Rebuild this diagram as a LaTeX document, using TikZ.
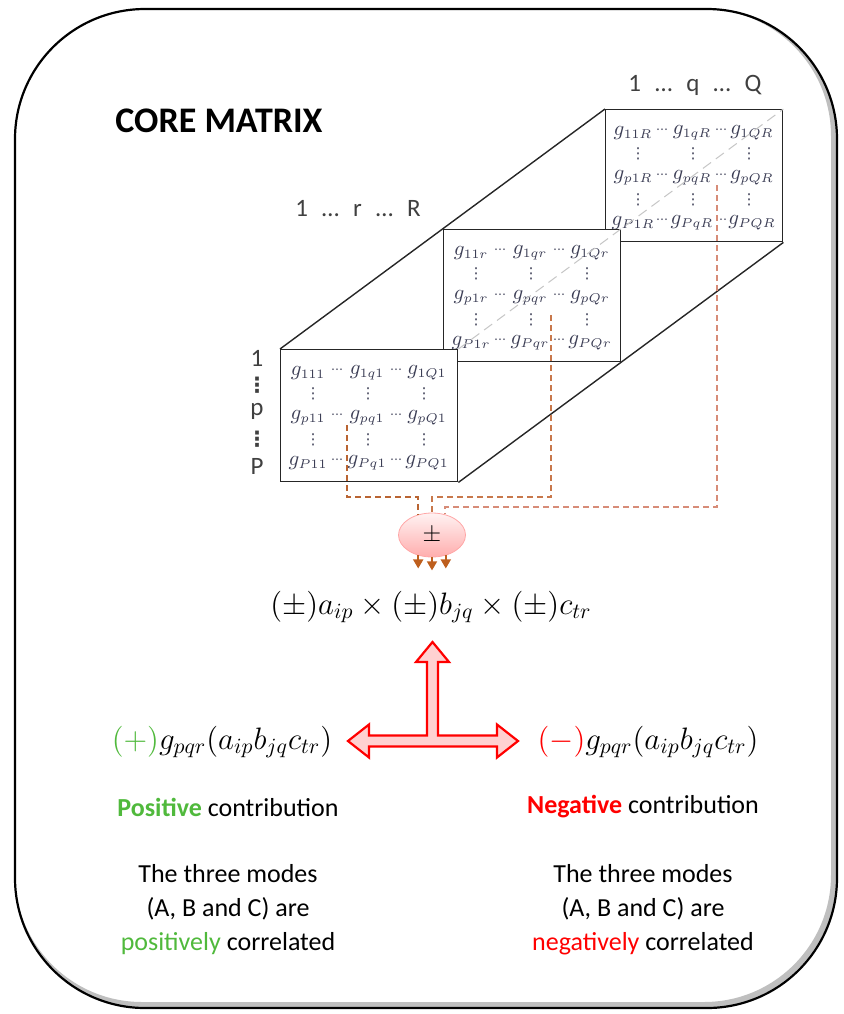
\RequirePackage{fix-cm}
\documentclass[tikz,border=0pt]{standalone}
\usepackage{amsmath,amssymb}
\usepackage[no-math]{fontspec}
\setmainfont{Carlito}
\newfontfamily\dotsfont{DejaVu Sans}
\usetikzlibrary{positioning,arrows.meta,shapes.geometric,backgrounds}
\DeclareMathSizes{10.5}{10.5}{6.4}{5}

\definecolor{posgreen}{RGB}{80,185,60}
\definecolor{negred}{RGB}{255,0,0}
\definecolor{entryink}{RGB}{60,62,85}
\definecolor{labelgray}{RGB}{64,64,64}
\definecolor{wireA}{RGB}{185,100,50}
\definecolor{wireB}{RGB}{200,120,75}
\definecolor{wireC}{RGB}{215,140,120}
\definecolor{dripbrown}{RGB}{190,95,30}

\begin{document}
\begin{tikzpicture}[x=0.5pt, y=-0.5pt,
    slab/.style={draw=black!85, line width=0.7pt, fill=white,
      minimum width=88.5pt, minimum height=66pt, inner sep=0pt},
    entrynode/.style={text=entryink, font=\fontsize{10.5}{11}\selectfont, inner sep=0pt},
    dotnode/.style={text=entryink, font={\fontsize{6}{6}\dotsfont}, inner sep=0pt},
    axislabel/.style={text=labelgray, font=\fontsize{12.5}{14}\selectfont, inner sep=0pt},
    wire/.style={line width=0.8pt, dash pattern=on 3pt off 2pt},
    drip/.style={-{Triangle[width=5pt,length=4.5pt]}, line width=0.8pt, draw=dripbrown},
    bigarrow/.style={draw=red, line width=1.1pt, fill=red!18, line join=miter},
    body/.style={font=\fontsize{13}{17}\selectfont, align=center},
    formula/.style={font=\fontsize{15.5}{18}\selectfont}]
  \useasboundingbox (0,0) rectangle (844,1014);

  % frame with inner shadow
  \begin{scope}
    \clip[rounded corners=65pt] (15,9) rectangle (837,1008);
    \draw[black!25, line width=3pt, rounded corners=65pt] (12,6) rectangle (834,1005);
  \end{scope}
  \draw[line width=1.1pt, rounded corners=65pt] (15,9) rectangle (837,1008);

  \node[font=\fontsize{18}{20}\selectfont\bfseries] (title) at (219,121) {CORE MATRIX};

  % the three slices, back to front
  \foreach \s/\bx/\by in {R/605/109, r/443/229, 1/280/349} {
    \node[slab, anchor=north west] (slab\s) at (\bx,\by) {};
    \foreach \i/\dy in {1/24, p/69, P/114} {
      \foreach \j/\dx in {1/28, q/87, Q/147}
        \node[entrynode] (g\i\j\s) at (\bx+\dx,\by+\dy) {$g_{\i\j\s}$};
      \node[dotnode] (hda\i\s) at (\bx+57,\by+\dy-2) {⋯};
      \node[dotnode] (hdb\i\s) at (\bx+116,\by+\dy-2) {⋯};
    }
    \foreach \dy in {45,91}
      \foreach \dx in {33,88,144}
        \node[dotnode, font={\fontsize{7.5}{8}\dotsfont}] (vd\s\dx\dy) at (\bx+\dx,\by+\dy) {⋮};
  }

  % outer edges of the block
  \begin{scope}[on background layer]
    \draw[line width=0.7pt, black!85] (slab1.north west) -- (slabR.north west);
    \draw[line width=0.7pt, black!85] (slab1.south east) -- (slabR.south east);
  \end{scope}
  \draw[gray!45, line width=0.5pt, dash pattern=on 5pt off 3pt] (slab1.north east) -- (slabR.north east);

  % index labels
  \node[axislabel] (qlabel) at (695,85) {1\hspace{7pt}…\hspace{7pt}q\hspace{7pt}…\hspace{7pt}Q};
  \node[axislabel] (rlabel) at (358,209) {1\hspace{7pt}…\hspace{7pt}r\hspace{7pt}…\hspace{7pt}R};
  \foreach \t/\y [count=\n] in {1/358, p/411, P/466}
    \node[axislabel] (plabel\n) at (257,\y) {\t};
  \foreach \y [count=\n] in {385,439}
    \node[axislabel, font={\fontsize{10.5}{11}\dotsfont\bfseries}] (pdots\n) at (257,\y) {⋮};

  % sign node and taps
  \node[ellipse, minimum width=33.5pt, minimum height=22pt, inner sep=0pt,
    draw=red!35, top color=red!5, bottom color=red!32,
    font=\fontsize{12}{12}\selectfont] (pm) at (432,535) {$\pm$};
  \coordinate (tapA) at (347,425);
  \coordinate (tapB) at (551,315);
  \coordinate (tapC) at (717,185);
  \draw[wire, wireA] (tapA) |- (pm.124 |- 0,497) -- (pm.124);
  \draw[wire, wireB] (tapB) |- (pm.north |- 0,497) -- (pm.north);
  \draw[wire, wireC] (tapC) |- (pm.58 |- 0,507) -- (pm.58);
  \foreach \a/\n in {236/1, 270/2, 304/3} {
    \path (pm.\a) ++(0,13) coordinate (drop\n);
    \draw[drip] (pm.\a) -- (drop\n);
  }

  \node[formula] (product) at (431,607)
    {$(\pm)a_{ip}\times(\pm)b_{jq}\times(\pm)c_{tr}$};

  % T shaped double arrow
  \draw[bigarrow] (432.5,642) -- (449,662) -- (438,662) -- (438,735.5)
    -- (497,735.5) -- (497,724.5) -- (518,741) -- (497,757.5) -- (497,746.5)
    -- (369,746.5) -- (369,757.5) -- (348,741) -- (369,724.5) -- (369,735.5)
    -- (427,735.5) -- (427,662) -- (416,662) -- cycle;

  \node[formula] (posterm) at (222,742)
    {$\textcolor{posgreen}{(+)}g_{pqr}(a_{ip}b_{jq}c_{tr})$};
  \node[formula] (negterm) at (648,742)
    {$\textcolor{negred}{(-)}g_{pqr}(a_{ip}b_{jq}c_{tr})$};

  \node[body] (poslabel) at (228,807) {\textbf{\color{posgreen}Positive} contribution};
  \node[body] (neglabel) at (643,807) {\textbf{\color{negred}Negative} contribution};
  \node[body] (posnote) at (228,910)
    {The three modes\\(A, B and C) are\\\textcolor{posgreen}{positively} correlated};
  \node[body] (negnote) at (643,910)
    {The three modes\\(A, B and C) are\\\textcolor{negred}{negatively} correlated};
\end{tikzpicture}
\end{document}
